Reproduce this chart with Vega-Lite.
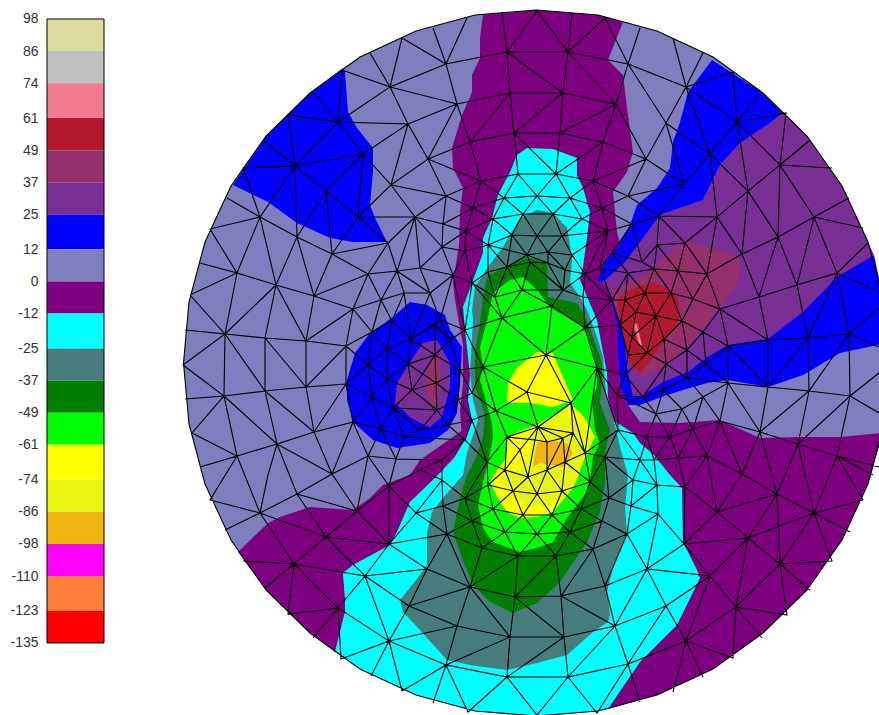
{"$schema":"https://vega.github.io/schema/vega-lite/v6.json","padding":{"left":9,"top":0,"right":0,"bottom":0},"spacing":0,"background":"white","config":{"view":{"stroke":null},"axis":{"labelOverlap":false}},
"datasets":{"bands":[{"band":86,"lo":86,"hi":98},{"band":74,"lo":74,"hi":86},{"band":61,"lo":61,"hi":74},{"band":49,"lo":49,"hi":61},{"band":37,"lo":37,"hi":49},{"band":25,"lo":25,"hi":37},{"band":12,"lo":12,"hi":25},{"band":0,"lo":0,"hi":12},{"band":-12,"lo":-12,"hi":0},{"band":-25,"lo":-25,"hi":-12},{"band":-37,"lo":-37,"hi":-25},{"band":-49,"lo":-49,"hi":-37},{"band":-61,"lo":-61,"hi":-49},{"band":-74,"lo":-74,"hi":-61},{"band":-86,"lo":-86,"hi":-74},{"band":-98,"lo":-98,"hi":-86},{"band":-110,"lo":-110,"hi":-98},{"band":-123,"lo":-123,"hi":-110},{"band":-135,"lo":-135,"hi":-123}]},
"hconcat":[
{"width":57,"height":715,"layer":[
{"data":{"name":"bands"},"mark":{"type":"rect"},"encoding":{"y":{"field":"lo","type":"quantitative","scale":{"domain":[-161.9,105.09],"nice":false,"zero":false},"axis":{"values":[98,86,74,61,49,37,25,12,0,-12,-25,-37,-49,-61,-74,-86,-98,-110,-123,-135],"title":null,"ticks":false,"domain":false,"grid":false,"labelFont":"Liberation Sans","labelFontSize":14,"labelColor":"#333333","labelPadding":9,"labelOverlap":false,"labelFlush":false,"labelExpr":"'' + datum.value"}},"y2":{"field":"hi"},"color":{"field":"band","type":"ordinal","legend":null,"scale":{"domain":[86,74,61,49,37,25,12,0,-12,-25,-37,-49,-61,-74,-86,-98,-110,-123,-135],"range":["#dcdca0","#c0c0c0","#f07a90","#b2182e","#96306a","#7a2f96","#0000ff","#7f7fbf","#7f007f","#00ffff","#467c7c","#007f00","#00ff00","#ffff00","#e8f510","#efb410","#ff00ff","#ff7f3f","#ff0000"]}}}},
{"data":{"values":[{"lo":-135,"hi":98}]},"mark":{"type":"rect","fill":null,"stroke":"black","strokeWidth":1},"encoding":{"y":{"field":"lo","type":"quantitative","axis":{"values":[98,86,74,61,49,37,25,12,0,-12,-25,-37,-49,-61,-74,-86,-98,-110,-123,-135],"title":null,"ticks":false,"domain":false,"grid":false,"labelFont":"Liberation Sans","labelFontSize":14,"labelColor":"#333333","labelPadding":9,"labelOverlap":false,"labelFlush":false,"labelExpr":"'' + datum.value"}},"y2":{"field":"hi"}}}
]},
{"width":775,"height":715,"projection":{"type":"identity","scale":1,"translate":[-105,0]},"layer":[
{"data":{"values":[
{"band":0,"type":"Feature","geometry":{"type":"Polygon","coordinates":[[[889.5,363],[884,424],[868,484],[842,540],[807,590],[763,633],[713,669],[657,695],[598,711],[536.5,716],[475,711],[416,695],[360,669],[310,633],[266,590],[231,540],[205,484],[189,424],[183.5,363],[189,302],[205,242],[231,186],[266,136],[310,93],[360,57],[416,31],[475,15],[536.5,10],[598,15],[657,31],[713,57],[763,93],[807,136],[842,186],[868,242],[884,302],[889.5,363]]]}},
{"band":12,"type":"Feature","geometry":{"type":"Polygon","coordinates":[[[343,68],[310,93],[266,136],[233,185],[268,202],[297,223],[330,238],[353,242],[387,242],[375,218],[370,205],[373,172],[373,148],[357,128],[348,112],[345,72],[343,68]]]}},
{"band":25,"type":"Feature","geometry":{"type":"Polygon","coordinates":[[[783,113],[807,136],[842,186],[868,242],[874,255],[837,290],[768,345],[640,400],[622,400],[615,340],[602,283],[640,242],[660,215],[703,200],[720,165],[740,143],[767,125],[783,113]]]}},
{"band":12,"type":"Feature","geometry":{"type":"Polygon","coordinates":[[[712,60],[763,93],[783,113],[767,125],[740,143],[720,165],[703,200],[660,215],[640,242],[625,262],[602,283],[623,327],[627,367],[633,397],[640,397],[663,382],[688,372],[707,357],[728,345],[768,339],[803,312],[837,277],[874,255],[884,302],[887,343],[840,353],[803,375],[768,387],[727,380],[707,383],[683,390],[667,395],[640,405],[628,405],[620,387],[618,357],[617,323],[607,287],[597,280],[607,257],[618,245],[630,225],[637,205],[657,188],[670,168],[673,142],[680,122],[688,92],[712,60]]]}},
{"band":37,"type":"Feature","geometry":{"type":"Polygon","coordinates":[[[683,240],[740,257],[738,283],[722,305],[703,328],[687,347],[663,367],[645,377],[635,370],[627,343],[620,323],[612,290],[627,283],[647,273],[673,250],[683,240]]]}},
{"band":49,"type":"Feature","geometry":{"type":"Polygon","coordinates":[[[653,283],[672,290],[678,300],[680,320],[660,347],[648,363],[640,373],[630,363],[620,323],[617,307],[620,297],[637,287],[653,283]]]}},
{"band":61,"type":"Feature","geometry":{"type":"Polygon","coordinates":[[[633,322],[637,324],[642,345],[639,345],[633,322]]]}},
{"band":12,"type":"Feature","geometry":{"type":"Polygon","coordinates":[[[410,302],[393,317],[370,333],[355,353],[347,380],[347,400],[353,422],[373,440],[397,448],[430,443],[448,430],[457,413],[460,383],[462,347],[450,330],[445,315],[427,305],[410,302]]]}},
{"band":25,"type":"Feature","geometry":{"type":"Polygon","coordinates":[[[420,347],[407,367],[397,383],[395,403],[410,417],[420,423],[430,427],[442,417],[450,387],[450,363],[437,340],[423,343],[420,347]]]}},
{"band":37,"type":"Feature","geometry":{"type":"Polygon","coordinates":[[[437,353],[430,363],[425,383],[430,407],[437,407],[440,383],[440,363],[437,353]]]}},
{"band":-12,"type":"Feature","geometry":{"type":"Polygon","coordinates":[[[483,15],[536.5,10],[598,15],[623,22],[608,60],[623,75],[627,108],[633,152],[627,172],[613,192],[615,212],[617,232],[620,245],[607,257],[597,280],[607,287],[617,323],[618,357],[620,387],[628,405],[625,440],[600,440],[480,440],[462,440],[460,410],[463,385],[463,345],[455,300],[453,283],[459,245],[460,212],[463,188],[453,168],[452,148],[462,115],[472,92],[472,75],[480,58],[480,38],[483,15]]]}},
{"band":-12,"type":"Feature","geometry":{"type":"Polygon","coordinates":[[[238,552],[266,590],[310,633],[335,652],[345,612],[345,598],[343,573],[353,565],[390,545],[397,532],[410,502],[433,480],[470,440],[463,430],[420,460],[410,475],[383,485],[370,498],[353,510],[310,507],[280,517],[268,523],[238,552]]]}},
{"band":-12,"type":"Feature","geometry":{"type":"Polygon","coordinates":[[[628,405],[640,422],[680,423],[720,420],[760,438],[797,437],[840,437],[883,433],[868,484],[842,540],[807,590],[763,633],[713,669],[657,695],[608,709],[620,600],[620,440],[628,405]]]}},
{"band":-25,"type":"Feature","geometry":{"type":"Polygon","coordinates":[[[517,155],[527,148],[553,149],[577,158],[577,175],[583,188],[590,212],[587,238],[583,267],[580,280],[597,320],[602,347],[607,373],[608,397],[613,420],[633,433],[640,443],[654,455],[670,475],[682,488],[683,542],[698,572],[700,578],[677,625],[640,662],[608,709],[598,711],[536.5,716],[475,711],[416,695],[360,669],[335,652],[345,612],[345,598],[343,573],[353,565],[390,545],[397,532],[410,502],[433,480],[453,460],[463,443],[472,420],[468,400],[470,375],[465,330],[463,307],[472,283],[483,253],[483,238],[492,218],[498,195],[510,172],[517,155]]]}},
{"band":-37,"type":"Feature","geometry":{"type":"Polygon","coordinates":[[[510,235],[520,218],[537,210],[553,213],[567,228],[570,245],[572,260],[570,283],[580,297],[587,310],[597,337],[603,357],[605,383],[607,400],[613,417],[620,447],[628,475],[625,508],[627,532],[613,568],[607,592],[610,615],[608,622],[593,632],[567,655],[537,663],[507,670],[470,665],[447,660],[427,638],[420,630],[403,612],[400,600],[420,575],[427,565],[427,532],[432,512],[443,498],[463,475],[467,453],[478,420],[473,400],[470,373],[473,320],[472,310],[475,287],[488,267],[503,247],[510,235]]]}},
{"band":-49,"type":"Feature","geometry":{"type":"Polygon","coordinates":[[[487,277],[502,268],[527,257],[547,262],[548,297],[577,303],[587,320],[593,337],[602,363],[602,383],[600,403],[610,430],[605,453],[605,482],[600,512],[587,542],[560,582],[537,603],[513,613],[490,602],[473,585],[462,558],[453,532],[460,498],[467,475],[475,460],[483,437],[485,413],[475,387],[475,353],[480,323],[483,297],[487,277]]]}},
{"band":-61,"type":"Feature","geometry":{"type":"Polygon","coordinates":[[[493,293],[510,280],[523,277],[537,290],[550,307],[583,327],[592,347],[597,367],[597,387],[592,400],[595,430],[600,443],[593,457],[590,480],[587,492],[567,518],[553,542],[537,548],[520,552],[493,542],[483,528],[478,505],[483,482],[490,453],[493,437],[492,423],[480,380],[483,367],[480,347],[488,317],[493,293]]]}},
{"band":-74,"type":"Feature","geometry":{"type":"Polygon","coordinates":[[[537,352],[553,353],[560,370],[573,400],[553,407],[530,403],[507,403],[508,383],[517,368],[537,352]]]}},
{"band":-74,"type":"Feature","geometry":{"type":"Polygon","coordinates":[[[507,437],[523,430],[537,425],[557,413],[570,403],[585,418],[595,437],[587,453],[580,470],[577,480],[570,492],[553,512],[537,517],[520,518],[507,512],[498,498],[490,482],[497,470],[505,460],[507,437]]]}},
{"band":-86,"type":"Feature","geometry":{"type":"Polygon","coordinates":[[[530,432],[557,415],[575,418],[593,437],[585,453],[577,475],[565,497],[547,507],[527,507],[513,495],[500,480],[510,470],[525,470],[530,450],[530,432]]]}},
{"band":-98,"type":"Feature","geometry":{"type":"Polygon","coordinates":[[[537,443],[547,440],[567,443],[573,453],[563,467],[540,463],[533,467],[535,453],[537,443]]]}}
]},"mark":{"type":"geoshape","clip":true,"stroke":null},"encoding":{"color":{"field":"band","type":"ordinal","legend":null,"scale":{"domain":[86,74,61,49,37,25,12,0,-12,-25,-37,-49,-61,-74,-86,-98,-110,-123,-135],"range":["#dcdca0","#c0c0c0","#f07a90","#b2182e","#96306a","#7a2f96","#0000ff","#7f7fbf","#7f007f","#00ffff","#467c7c","#007f00","#00ff00","#ffff00","#e8f510","#efb410","#ff00ff","#ff7f3f","#ff0000"]}}}},
{"data":{"values":[{"type":"Feature","geometry":{"type":"MultiLineString","coordinates":[
[[889.5,363],[884,424],[868,484],[842,540],[807,590],[763,633],[713,669],[657,695],[598,711],[536.5,716],[475,711],[416,695],[360,669],[310,633],[266,590],[231,540],[205,484],[189,424],[183.5,363],[189,302],[205,242],[231,186],[266,136],[310,93],[360,57],[416,31],[475,15],[536.5,10],[598,15],[657,31],[713,57],[763,93],[807,136],[842,186],[868,242],[884,302],[889.5,363]],
[[342,70],[338,122],[288,115],[295,166],[263,140]],[[338,122],[313,92]],[[342,70],[390,87],[338,122],[408,124],[363,154],[338,122],[295,166],[363,154],[326,191],[295,166],[243,168],[260,217],[295,166],[297,237],[326,191],[358,217],[363,154],[391,185],[358,217],[388,243],[415,217],[358,217],[332,254],[326,191]],
[[391,185],[408,124],[390,87],[370,53]],[[390,87],[402,38]],[[391,185],[415,217]],[[260,217],[297,237]],[[260,217],[227,198]],[[260,217],[210,229],[237,273],[260,217],[276,285],[297,237],[332,254],[314,296],[297,237]],
[[200,263],[237,273],[190,295]],[[237,273],[276,285],[314,296],[353,309]],[[332,254],[368,274],[314,296]],[[332,254],[388,243],[368,274],[353,309]],[[237,273],[225,334],[190,295]],[[276,285],[225,334]],[[276,285],[265,338]],[[276,285],[306,341],[314,296]],[[353,309],[306,341]],[[353,309],[346,346],[372,332],[353,309]],[[368,274],[381,300],[353,309]],[[368,274],[397,271],[388,243]],[[381,300],[372,332]],[[381,300],[404,293],[397,271],[381,300],[392,321],[404,293]],
[[185,330],[225,334],[183,365],[224,396],[185,399]],[[225,334],[265,338],[306,341],[346,346]],[[225,334],[224,396],[265,391],[225,334]],[[265,338],[265,391],[306,387],[346,384],[346,346],[306,387],[306,341]],[[265,338],[306,387]],
[[346,346],[368,365],[346,384],[372,397],[353,422],[346,384]],[[372,332],[392,321],[387,349],[372,332],[368,365],[387,349],[411,339],[392,321]],[[387,349],[408,364],[387,379],[368,365]],[[387,349],[387,379],[412,390],[408,364]],[[387,379],[372,397],[368,365]],[[387,379],[393,408],[372,397],[381,429],[353,422]],[[381,429],[393,408],[412,390]],[[393,408],[404,437],[381,429],[396,459],[404,437]],
[[353,422],[314,432],[346,384]],[[314,432],[306,387]],[[265,391],[314,432],[277,444],[265,391]],[[314,432],[332,474],[277,444],[237,456],[224,396],[192,433],[237,456],[200,467]],[[224,396],[277,444]],[[353,422],[368,456],[381,429]],[[353,422],[332,474],[368,456],[396,459]],
[[237,456],[210,500],[260,513]],[[237,456],[260,513]],[[277,444],[297,494],[260,513],[225,530]],[[277,444],[268,475],[260,513]],[[297,494],[332,474]],[[297,494],[357,511],[332,474]],[[357,511],[368,456]],[[357,511],[389,486],[368,456]],[[389,486],[396,459]],[[260,513],[326,537],[297,494]],[[326,537],[357,511],[389,544],[389,486]],[[326,537],[389,544]],[[260,513],[294,564],[326,537],[365,576],[389,544]],[[294,564],[243,561]],[[294,564],[265,588]],[[294,564],[288,614],[338,608],[294,564]],[[294,564],[365,576]],[[338,608],[313,638]],[[338,608],[341,659],[389,641],[338,608],[365,576],[389,641],[371,676]],[[389,641],[402,691]],[[365,576],[409,606],[389,641]],[[365,576],[427,569]],[[409,606],[427,569]],
[[389,544],[416,513],[389,486]],[[389,544],[427,569]],[[389,544],[447,534],[416,513],[443,506],[447,534]],[[416,513],[442,480],[443,506],[465,498],[442,480],[420,470],[389,486]],[[420,470],[442,460],[396,459]],[[442,460],[465,440],[404,437]],[[442,460],[442,480]],[[465,440],[487,462],[465,498]],[[465,440],[472,420],[487,462]],
[[443,506],[472,521],[465,498],[493,509],[472,521],[447,534],[482,548],[472,521]],[[447,534],[470,587],[482,548],[518,556],[470,587],[427,569],[447,534]],[[472,521],[505,532],[482,548]],[[493,509],[505,532],[518,556],[537,534],[505,532],[523,515],[493,509]],[[523,515],[537,534],[552,515],[523,515]],[[552,515],[570,532],[537,534],[556,556],[518,556]],[[570,532],[556,556],[593,549],[570,532],[581,509],[552,515]],[[581,509],[602,521],[570,532]],[[602,521],[593,549],[627,534],[602,521],[609,498],[581,509]],
[[518,556],[515,597],[470,587],[457,626],[510,637],[470,587],[409,606]],[[556,556],[515,597],[561,596],[556,556]],[[593,549],[561,596]],[[593,549],[605,586],[627,534],[647,569],[605,586],[561,596],[564,637],[515,597],[510,637],[564,637],[615,626],[561,596]],[[605,586],[615,626]],[[457,626],[409,606]],[[457,626],[389,641]],[[457,626],[446,665],[389,641]],[[446,665],[510,637],[507,677],[446,665],[433,703]],[[446,665],[468,712],[507,677],[564,637],[568,677],[507,677],[537,715],[568,677],[597,713],[628,664],[568,677],[615,626],[628,664],[640,702]],[[446,665],[402,691]],
[[647,569],[615,626],[666,606],[647,569],[710,576],[666,606],[628,664],[686,641],[666,606],[710,576],[686,641],[736,607],[710,576],[684,544],[647,569],[658,514],[684,544],[717,512],[685,487],[657,485],[658,514],[627,534]],[[685,487],[684,544]],[[658,514],[631,506],[627,534]],[[631,506],[609,498]],[[631,506],[657,485],[633,480],[631,506]],[[633,480],[609,498],[605,457],[633,480],[640,460],[657,485]],[[686,641],[733,658],[736,607],[762,638]],[[686,641],[703,677]],[[686,641],[673,692]],[[736,607],[787,615],[780,564],[736,607],[748,538],[780,564],[810,590]],[[780,564],[832,561],[814,513],[780,564],[777,494],[748,538],[717,512],[777,494],[814,513],[748,538]],[[748,538],[710,576]],[[748,538],[684,544]],[[814,513],[863,500]],[[814,513],[850,532]],
[[717,512],[742,474],[777,494],[760,432],[742,474],[720,421],[760,432],[798,444],[777,494]],[[717,512],[707,456],[742,474]],[[717,512],[685,487],[707,456],[678,458],[685,487]],[[814,513],[798,444],[837,456],[814,513]],[[837,456],[863,500]],[[837,456],[873,475]],[[837,456],[879,467]],[[798,444],[850,396],[837,456]],[[850,396],[879,413]],[[850,396],[879,373]],[[657,485],[654,460],[678,458],[670,437],[654,460],[640,460],[647,437],[654,460]],[[670,437],[693,429],[678,458]],[[693,429],[707,456],[720,421],[693,429],[703,397],[720,421],[728,383],[703,397],[682,409],[693,429]],[[670,437],[682,409],[656,414],[670,437],[647,437],[656,414],[663,390],[682,409]],[[663,390],[643,397],[656,414]],[[647,437],[618,430],[640,460]],[[605,457],[618,430],[617,395],[656,414]],[[605,457],[640,460]],[[728,383],[760,432],[768,387],[809,391],[760,432]],[[809,391],[798,444]],[[809,391],[850,396],[849,334],[809,391],[808,338],[849,334],[837,273],[808,338],[768,387],[768,340],[808,338],[797,285],[837,273],[879,292]],[[849,334],[879,308]],[[849,334],[879,347]],[[728,383],[768,387],[728,346],[768,340],[759,297],[797,285]],[[728,346],[728,383],[706,364],[728,346],[703,332],[706,364],[687,350],[703,332],[682,321],[687,350],[664,339],[682,321],[656,316],[664,339],[647,353],[656,316]],[[703,332],[720,309],[728,346]],[[720,309],[768,340]],[[720,309],[759,297],[742,254],[707,274],[720,309],[693,299],[707,274],[678,271],[693,299],[671,293],[678,271],[654,269],[671,293],[656,316],[645,293],[671,293],[682,321],[693,299],[720,309]],[[647,353],[666,364],[664,339]],[[666,364],[687,350],[687,378],[706,364],[728,383]],[[666,364],[687,378],[663,390],[666,364]],[[687,378],[728,383]],[[687,378],[703,397]],
[[654,269],[645,293],[625,300],[628,273],[654,269],[657,245],[678,271],[685,243],[657,245],[642,262],[654,269]],[[685,243],[707,274],[717,217],[685,243],[659,216],[657,245]],[[742,254],[717,217],[748,191],[742,254],[778,237],[748,191],[710,154],[684,184],[659,216],[717,217],[710,154]],[[778,237],[797,285]],[[778,237],[759,297]],[[778,237],[814,217],[797,285]],[[814,217],[837,273],[868,243]],[[814,217],[863,228]],[[814,217],[849,198]],[[814,217],[780,165],[778,237],[748,191],[780,165],[737,122],[748,191]],[[780,165],[786,113],[737,122],[762,92]],[[780,165],[810,140]],[[780,165],[832,168]],[[737,122],[733,72],[686,87],[737,122],[710,154],[686,87],[703,53]],[[686,87],[673,38]],[[686,87],[666,123],[710,154]],[[686,87],[628,64],[666,123],[646,159],[684,184],[666,123]],[[646,159],[628,196],[684,184]],[[628,196],[659,216],[632,224],[642,262],[612,253],[632,224]],
[[467,18],[446,64],[433,28]],[[446,64],[402,38]],[[446,64],[390,87],[457,104],[446,64],[507,52],[502,12]],[[507,52],[537,11],[568,52],[572,13]],[[568,52],[605,18],[628,64],[640,28]],[[507,52],[568,52],[628,64]],[[507,52],[510,93],[563,93],[507,52]],[[568,52],[563,93],[616,104],[568,52]],[[457,104],[510,93],[470,142],[457,104],[408,124]],[[510,93],[514,133],[563,93],[560,133],[616,104],[603,142],[560,133],[514,133],[470,142],[481,181],[428,159],[470,142]],[[457,104],[428,159],[408,124],[391,185],[428,159],[446,196],[391,185]],[[616,104],[628,64]],[[616,104],[646,159],[603,142],[593,181],[646,159]],[[514,133],[556,174],[518,174],[514,133]],[[560,133],[556,174],[603,142]],[[518,174],[481,181],[504,198],[518,174],[537,196],[556,174],[570,198],[537,196],[504,198]],[[556,174],[593,181],[570,198],[602,208],[593,181],[628,196],[602,208],[632,224],[608,231],[602,208],[582,219],[570,198]],[[481,181],[473,208],[446,196],[481,181]],[[473,208],[504,198],[493,219],[473,208],[466,231],[493,219],[523,214],[504,198]],[[446,196],[443,224],[473,208],[466,231],[443,224],[415,217],[446,196]],[[523,214],[537,196],[553,214],[523,214],[537,236],[553,214],[562,236],[582,219],[553,214],[570,198]],[[582,219],[608,231],[562,236]],[[523,214],[512,235],[493,219]],[[512,235],[537,236],[562,236]],
[[415,217],[388,243]],[[415,217],[397,271]],[[415,217],[420,268]],[[415,217],[442,247],[443,224]],[[442,247],[466,231],[465,251],[442,247],[420,268],[430,293],[453,275],[420,268],[397,271],[430,293],[404,293]],[[442,247],[453,275],[465,251],[472,283],[453,275]],[[465,251],[488,245],[466,231]],[[488,245],[493,219]],[[488,245],[512,235],[507,267],[488,245],[488,272],[472,283]],[[488,245],[527,255]],[[512,235],[527,255],[537,236],[548,252],[527,255],[548,263],[548,252],[562,236],[572,255],[548,252],[565,270],[572,255],[585,274],[608,231],[572,255]],[[527,255],[530,262],[507,267],[527,255]],[[488,272],[507,267]],[[530,262],[548,263],[565,270],[585,274],[600,268],[608,231]],[[600,268],[612,253]],[[600,268],[628,273],[612,253]],[[600,268],[612,300],[585,274],[583,297],[563,290],[585,274]],[[563,290],[565,270]],[[563,290],[548,263]],[[563,290],[530,262]],[[472,283],[495,297],[488,272]],[[495,297],[507,267]],[[495,297],[522,290],[507,267]],[[522,290],[530,262]],[[522,290],[563,290]],[[495,297],[502,318],[522,290],[552,306],[502,318]],[[552,306],[563,290]],[[552,306],[585,328],[583,297],[612,300],[585,328],[546,355],[552,306]],[[502,318],[546,355],[483,367],[502,318],[465,330],[483,367]],[[502,318],[472,283],[465,330],[453,275]],[[546,355],[597,368],[585,328]],[[546,355],[527,392],[483,367],[496,411],[527,392],[571,403],[546,355]],[[597,368],[571,403],[538,427],[527,392]],[[496,411],[538,427],[507,437],[496,411],[472,393],[483,367]],[[571,403],[573,433],[538,427]],[[571,403],[585,453],[597,368],[618,430],[585,453],[573,433]],
[[507,437],[535,440],[547,442],[563,438],[573,433],[565,462],[585,453],[590,482],[565,462],[547,470],[528,477],[505,470],[507,437],[520,450],[538,427],[535,440],[528,477],[520,450],[505,470]],[[538,427],[547,442],[547,470],[563,438],[538,427]],[[563,438],[565,462]],[[505,470],[513,491],[528,477],[537,494],[547,470],[562,491],[565,462]],[[562,491],[590,482],[581,509],[562,491],[552,515],[537,494],[523,515],[513,491],[493,509],[488,485],[513,491],[537,494],[562,491]],[[505,470],[488,485],[465,498]],[[488,485],[487,462],[505,470]],[[487,462],[507,437]],[[472,420],[496,411]],[[472,393],[496,411]],[[590,482],[609,498],[605,457],[590,482]],[[585,453],[605,457]],
[[612,300],[628,273]],[[612,300],[625,300],[636,312],[645,293],[625,300],[620,325],[612,300]],[[620,325],[585,328]],[[620,325],[636,312],[656,316]],[[620,325],[632,337],[636,312]],[[632,337],[656,316]],[[632,337],[647,353],[628,355],[632,337]],[[620,325],[628,355],[625,375],[647,353]],[[625,375],[643,397],[666,364]],[[625,375],[597,368]],[[625,375],[617,395],[597,368]],[[617,395],[643,397]],[[628,273],[645,293]],
[[411,339],[435,325],[435,355],[411,339],[408,364],[435,355],[436,383],[408,364]],[[436,383],[412,390],[437,410],[436,383]],[[412,390],[435,355]],[[393,408],[437,410],[420,430],[393,408]],[[420,430],[404,437]],[[435,325],[450,340],[435,355],[460,370],[450,340]],[[436,383],[460,370],[458,400],[436,383]],[[437,410],[458,400],[448,425],[437,410]],[[420,430],[448,425],[465,440]],[[448,425],[472,420],[458,400],[472,393],[460,370],[483,367]],[[450,340],[465,330],[440,320],[450,340]],[[435,325],[440,320],[411,339],[430,293],[440,320],[453,275]],[[404,293],[411,339]]
]}}]},"mark":{"type":"geoshape","clip":true,"filled":false,"stroke":"#000000","strokeWidth":1.1},"encoding":{}}
]}
]}
